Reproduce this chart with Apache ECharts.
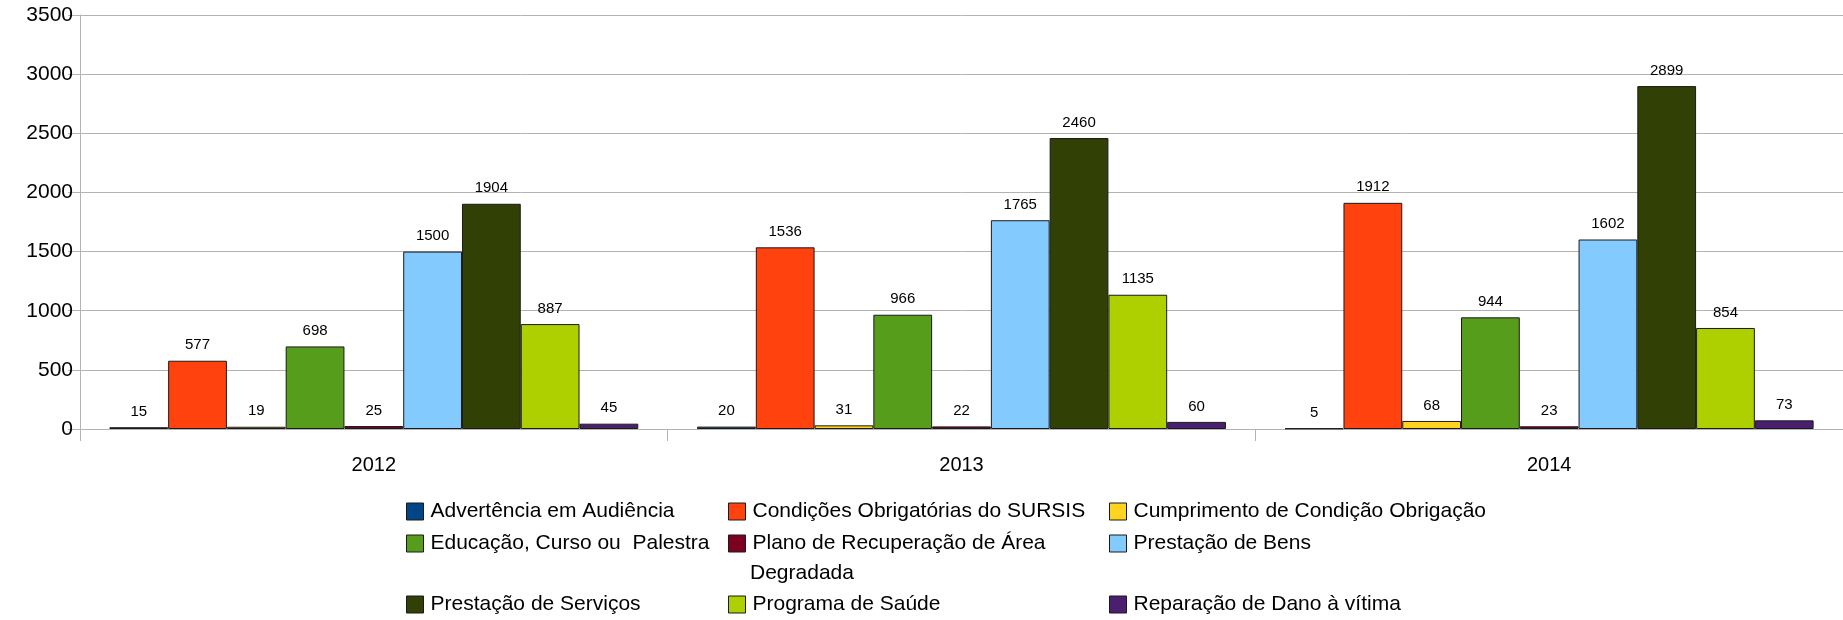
<!DOCTYPE html>
<html>
<head>
<meta charset="utf-8">
<script src="https://cdn.jsdelivr.net/npm/echarts@6/dist/echarts.min.js"></script>
<style>
html,body{margin:0;padding:0;background:#fff;}
#chart{width:1843px;height:620px;}
</style>
</head>
<body>
<div id="chart"></div>
<script>
var categories = ['2012', '2013', '2014'];
var seriesNames = [
  'Advertência em Audiência',
  'Condições Obrigatórias do SURSIS',
  'Cumprimento de Condição Obrigação',
  'Educação, Curso ou  Palestra',
  'Plano de Recuperação de Área Degradada',
  'Prestação de Bens',
  'Prestação de Serviços',
  'Programa de Saúde',
  'Reparação de Dano à vítima'
];
var advertencia = [15, 20, 5];
var condicoes = [577, 1536, 1912];
var cumprimento = [19, 31, 68];
var educacao = [698, 966, 944];
var plano = [25, 22, 23];
var prestacaoBens = [1500, 1765, 1602];
var prestacaoServicos = [1904, 2460, 2899];
var programaSaude = [887, 1135, 854];
var reparacao = [45, 60, 73];
var yTicks = [0, 500, 1000, 1500, 2000, 2500, 3000, 3500];

var seriesValues = [advertencia, condicoes, cumprimento, educacao, plano, prestacaoBens, prestacaoServicos, programaSaude, reparacao];
var colors = ['#004586', '#ff420e', '#ffd320', '#579d1c', '#7e0021', '#83caff', '#314004', '#aecf00', '#4b1f6f'];

var FONT = '"Liberation Sans", Arial, sans-serif';

var series = seriesNames.map(function (name, i) {
  return {
    name: name,
    type: 'bar',
    data: seriesValues[i],
    barGap: '0%',
    barCategoryGap: '10%',
    itemStyle: { color: colors[i], borderColor: '#1a1a1a', borderWidth: 1 },
    label: {
      show: true,
      position: 'top',
      distance: 8,
      color: '#000',
      fontSize: 15,
      fontFamily: FONT
    },
    emphasis: { disabled: true }
  };
});

// legend layout: 3 columns x 3 rows (row-major order of seriesNames)
var colX = [406, 728, 1109];
var rowY = [514, 546, 607];
var legends = seriesNames.map(function (name, i) {
  var col = i % 3, row = Math.floor(i / 3);
  return {
    left: colX[col],
    top: rowY[row] - 13,
    padding: 0,
    icon: 'rect',
    itemWidth: 17,
    itemHeight: 17,
    itemGap: 0,
    selectedMode: false,
    itemStyle: { borderColor: '#1a1a1a', borderWidth: 1 },
    data: [name],
    formatter: function (n) {
      return n === 'Plano de Recuperação de Área Degradada' ? 'Plano de Recuperação de Área' : n;
    },
    textStyle: { fontSize: 21, color: '#000', fontFamily: FONT, padding: [0, 0, 0, 2] }
  };
});

var chart = echarts.init(document.getElementById('chart'));
chart.setOption({
  animation: false,
  backgroundColor: '#fff',
  grid: { left: 80, right: 0, top: 15, bottom: 191, containLabel: false },
  legend: legends,
  graphic: [{
    type: 'text',
    left: 750,
    top: 575 - 12,
    style: { text: 'Degradada', fill: '#000', font: '21px ' + FONT }
  }],
  xAxis: {
    type: 'category',
    data: categories,
    axisLine: { lineStyle: { color: '#b3b3b3', width: 1 } },
    axisTick: { show: true, length: 12, lineStyle: { color: '#b3b3b3' } },
    axisLabel: { color: '#000', fontSize: 20, fontFamily: FONT, margin: 26 }
  },
  yAxis: {
    type: 'value',
    min: yTicks[0],
    max: yTicks[yTicks.length - 1],
    interval: 500,
    axisLine: { show: true, lineStyle: { color: '#b3b3b3', width: 1 } },
    axisTick: { show: true, length: 12, lineStyle: { color: '#b3b3b3' } },
    axisLabel: {
      color: '#000', fontSize: 21, fontFamily: FONT, margin: 7,
      formatter: function (v) { return String(v); }
    },
    splitLine: { show: true, lineStyle: { color: '#b3b3b3', width: 1 } }
  },
  series: series
});
</script>
</body>
</html>
